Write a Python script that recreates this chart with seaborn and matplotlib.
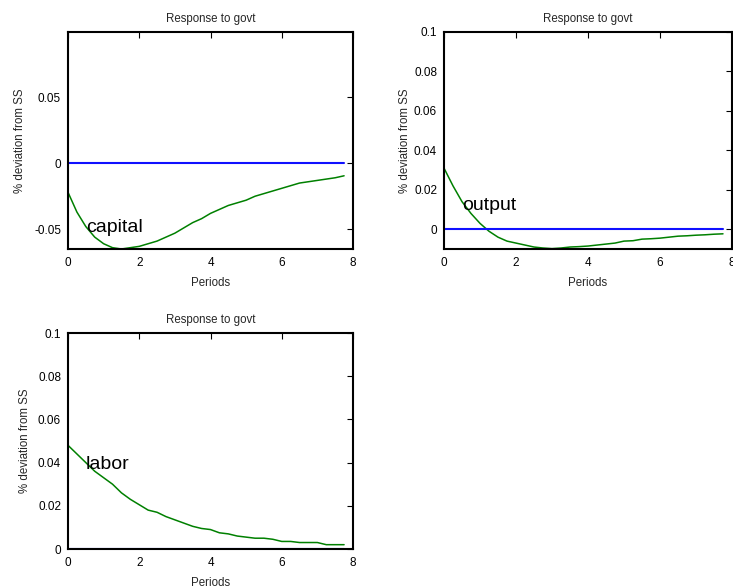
import numpy as np
import pandas as pd
import seaborn as sns
import matplotlib.pyplot as plt

periods = np.arange(32) * 0.25

capital = [-0.022, -0.037, -0.048, -0.056, -0.061, -0.064, -0.065, -0.064,
           -0.063, -0.061, -0.059, -0.056, -0.053, -0.049, -0.045, -0.042,
           -0.038, -0.035, -0.032, -0.030, -0.028, -0.025, -0.023, -0.021,
           -0.019, -0.017, -0.015, -0.014, -0.013, -0.012, -0.011, -0.0095]
output = [0.031, 0.022, 0.014, 0.008, 0.003, -0.001, -0.004, -0.006,
          -0.007, -0.008, -0.009, -0.0095, -0.0098, -0.0095, -0.009, -0.0088,
          -0.0085, -0.008, -0.0075, -0.007, -0.006, -0.0058, -0.005, -0.0048,
          -0.0045, -0.004, -0.0035, -0.0033, -0.003, -0.0028, -0.0025, -0.0023]
labor = [0.048, 0.044, 0.040, 0.036, 0.033, 0.030, 0.026, 0.023,
         0.0205, 0.018, 0.017, 0.015, 0.0135, 0.012, 0.0105, 0.0095,
         0.009, 0.0075, 0.007, 0.006, 0.0055, 0.005, 0.005, 0.0045,
         0.0035, 0.0035, 0.003, 0.003, 0.003, 0.002, 0.002, 0.002]

names = ["capital", "output", "labor"]
series = [capital, output, labor]
ylims = [(-0.065, 0.0995), (-0.01, 0.1), (0, 0.1)]
yticks = [[-0.05, 0, 0.05], [0, 0.02, 0.04, 0.06, 0.08, 0.1], [0, 0.02, 0.04, 0.06, 0.08, 0.1]]
label_y = [-0.049, 0.012, 0.039]
ylab_x = [-0.147, -0.114, -0.130]
xticks = [0, 2, 4, 6, 8]

sns.set_style("white")
plt.rcParams["font.family"] = ["Liberation Sans", "DejaVu Sans"]

fig = plt.figure(figsize=(7.33, 5.88), dpi=100)
# axes rectangles in figure fractions (left, bottom, width, height)
rects = [
    (68 / 733, 1 - 249 / 588, 285 / 733, 217 / 588),
    (444 / 733, 1 - 249 / 588, 288 / 733, 217 / 588),
    (68 / 733, 1 - 549 / 588, 285 / 733, 216 / 588),
]

for name, vals, rect, yl, yt, ly, yx in zip(names, series, rects, ylims, yticks, label_y, ylab_x):
    ax = fig.add_axes(rect)
    df = pd.DataFrame({"Periods": periods, "value": vals})
    sns.lineplot(data=df, x="Periods", y="value", color="#008000", lw=1.1, ax=ax)
    zero = pd.DataFrame({"Periods": periods, "value": np.zeros(len(periods))})
    sns.lineplot(data=zero, x="Periods", y="value", color="#1010ff", lw=1.5, ax=ax)
    ax.set_xlim(0, 8)
    ax.set_ylim(*yl)
    ax.set_xticks(xticks)
    ax.set_yticks(yt)
    ax.set_yticklabels([("%g" % v) for v in yt])
    ax.tick_params(direction="in", top=True, right=True, length=4, width=0.8,
                   labelsize=8.5, colors="black")
    ax.tick_params(axis="x", pad=6)
    ax.tick_params(axis="y", pad=5)
    for s in ax.spines.values():
        s.set_color("black")
        s.set_linewidth(1.5)
    ax.set_title("Response to govt", fontsize=8.3, pad=7)
    ax.set_xlabel("Periods", fontsize=8.3)
    ax.xaxis.set_label_coords(0.5, -0.13)
    ax.set_ylabel("% deviation from SS", fontsize=8.3)
    ax.yaxis.set_label_coords(yx, 0.5)
    ax.text(0.5, ly, name, fontsize=14, va="center", ha="left", color="black")

fig.savefig("out.png", dpi=100)
